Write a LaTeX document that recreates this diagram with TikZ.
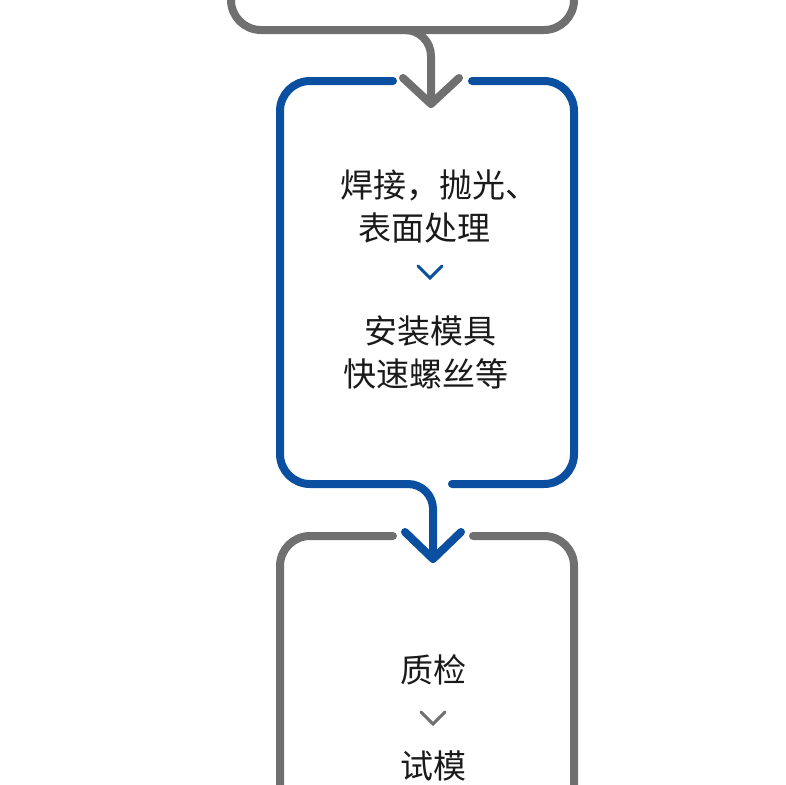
\documentclass[tikz,border=0pt]{standalone}
\usepackage{fontspec}
\newfontfamily\cjk{Noto Sans CJK SC}
\definecolor{flowblue}{HTML}{0A4FA0}
\definecolor{flowgray}{HTML}{707070}
\definecolor{txt}{HTML}{1A1A1A}
\begin{document}
\begin{tikzpicture}[x=1pt,y=-1pt,
  grayline/.style={draw=flowgray,line width=8pt,line cap=round,line join=round},
  blueline/.style={draw=flowblue,line width=8pt,line cap=round,line join=round},
  lbl/.style={inner sep=0pt,text=txt,font=\cjk\fontsize{33}{40}\selectfont},
  chev/.style={line width=3pt,line cap=round,line join=miter}]
\useasboundingbox (0,0) rectangle (785,785);
\clip (0,0) rectangle (785,785);
% top gray box (partly off picture)
\draw[grayline] (231,-60) -- (231,0) arc[start angle=180,end angle=90,radius=30]
  -- (544,30) arc[start angle=90,end angle=0,radius=30] -- (574,-60);
\coordinate (c1s) at (405,30);
\coordinate (c1t) at (431,104);
\draw[grayline] (c1s) arc[start angle=270,end angle=360,radius=26] -- (c1t);
\draw[grayline] (403,78) -- (c1t) -- (459,78);
% blue box
\coordinate (b1l) at (393,81);
\coordinate (b1r) at (472,81);
\draw[blueline] (b1l) -- (310,81) arc[start angle=270,end angle=180,radius=30]
  -- (280,454) arc[start angle=180,end angle=90,radius=30] -- (408,484);
\draw[blueline] (b1r) -- (544,81) arc[start angle=270,end angle=360,radius=30]
  -- (574,454) arc[start angle=0,end angle=90,radius=30] -- (452,484);
\coordinate (c2s) at (408,484);
\coordinate (c2t) at (433,559);
\draw[blueline] (c2s) arc[start angle=270,end angle=360,radius=25] -- (c2t);
\draw[blueline] (405,532) -- (c2t) -- (461,532);
% bottom gray box
\draw[grayline] (393,536) -- (310,536) arc[start angle=270,end angle=180,radius=30] -- (280,820);
\draw[grayline] (473,536) -- (544,536) arc[start angle=270,end angle=360,radius=30] -- (574,820);
% texts blue box
\node[lbl] (t1) at (439,185) {焊接，抛光、};
\node[lbl] (t2) at (424,228) {表面处理};
\draw[chev,flowblue] (418,266) -- (430,278) -- (442,266);
\node[lbl] (t3) at (430,331) {安装模具};
\node[lbl] (t4) at (426,374) {快速螺丝等};
% texts bottom box
\node[lbl] (t5) at (433,670) {质检};
\draw[chev,flowgray] (421,712) -- (433,724) -- (445,712);
\node[lbl] (t6) at (433,766) {试模};
\end{tikzpicture}
\end{document}
